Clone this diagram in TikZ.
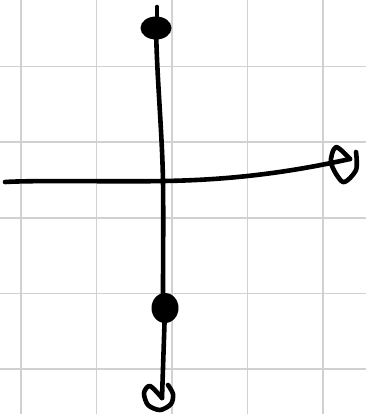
\documentclass[tikz,border=0pt]{standalone}
\usetikzlibrary{calc}
\tikzset{
  gridline/.style = {draw=black!18, line width=1.6pt},
  pen/.style      = {draw=black, line width=4.6pt, line cap=round, line join=round},
  blob/.style     = {fill=black}
}
\begin{document}
\begin{tikzpicture}[x=1pt,y=-1pt]
  \fill[white] (0,0) rectangle (366,414);
  \useasboundingbox (0,0) rectangle (366,414);
  % grid
  \foreach \gx in {20.7,96.3,172,247.6,323.2}
    \draw[gridline] (\gx,0) -- (\gx,414);
  \foreach \gy in {66.7,142.3,218,293.6,369.2}
    \draw[gridline] (0,\gy) -- (366,\gy);
  % axis points
  \coordinate (top)   at (156,28);
  \coordinate (mid)   at (163,181);
  \coordinate (dot)   at (165,308);
  \coordinate (bot)   at (162,398);
  \coordinate (left)  at (5,182);
  \coordinate (right) at (350,159);
  % vertical stroke
  \draw[pen] (157,7) -- (157,20);
  \fill[blob] (top) ellipse [x radius=15.5, y radius=11.5];
  \draw[pen] (top) .. controls (157,80) and (162,130) .. (mid)
             .. controls (163.5,220) and (163,260) .. (163,295) -- (dot) -- (bot);
  \fill[blob] (dot) ellipse [x radius=13.5, y radius=15];
  % horizontal stroke
  \draw[pen] (left) .. controls (40,180) and (120,182) .. (mid)
             .. controls (240,180) and (300,170) .. (right);
  % open loops
  \draw[pen] plot[smooth] coordinates {(right) (336,147) (331,163) (343,182) (356,170) (356,152)};
  \draw[pen] plot[smooth] coordinates {(bot) (150,386) (144,393) (148,405) (160,410) (171,404) (173,394) (168,385)};
\end{tikzpicture}
\end{document}
